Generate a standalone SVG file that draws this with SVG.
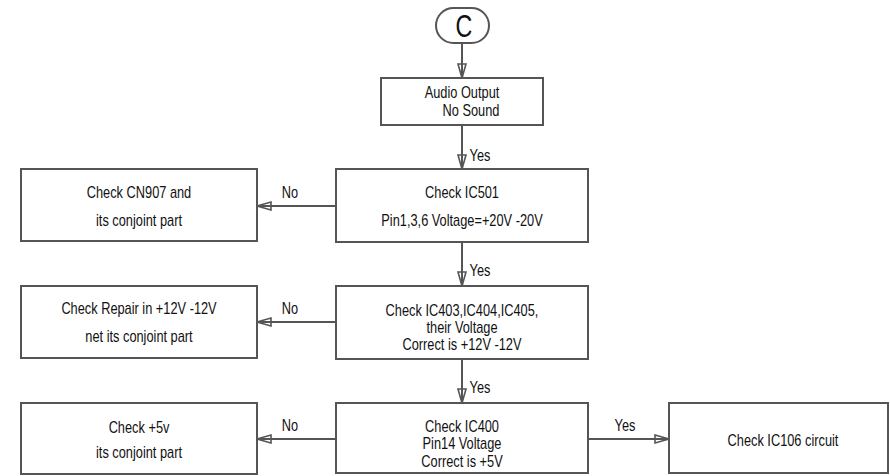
<svg xmlns="http://www.w3.org/2000/svg" width="890" height="476" viewBox="0 0 890 476">
<defs>
<style>
.box{fill:#fff;stroke:#555;stroke-width:2}
.ln{fill:none;stroke:#555;stroke-width:2;marker-end:url(#arr)}
text{font-family:"Liberation Sans Narrow","Liberation Sans",Arial,sans-serif;font-size:16px;fill:#111;text-anchor:middle;dominant-baseline:central}
</style>
<marker id="arr" markerUnits="userSpaceOnUse" markerWidth="18" markerHeight="12" refX="15" refY="6" orient="auto" viewBox="0 0 18 12">
<path d="M1,2 L15,6 L1,10 Z" fill="#fff" stroke="#555" stroke-width="1.6"/>
<path d="M0,6 L15,6" stroke="#555" stroke-width="2"/>
</marker>
</defs>
<rect width="890" height="476" fill="#fff"/>
<g id="connectors">
<path class="ln" d="M462,43 V78"/>
<path class="ln" d="M462,125 V169"/>
<path class="ln" d="M462,242 V286"/>
<path class="ln" d="M462,359 V403"/>
<path class="ln" d="M336,206 H257"/>
<path class="ln" d="M336,322 H257"/>
<path class="ln" d="M336,439 H257"/>
<path class="ln" d="M588,439 H669"/>
<text transform="translate(480 155) scale(0.8 1)">Yes</text>
<text transform="translate(480 270) scale(0.8 1)">Yes</text>
<text transform="translate(480 387) scale(0.8 1)">Yes</text>
<text transform="translate(290 192) scale(0.8 1)">No</text>
<text transform="translate(290 308) scale(0.8 1)">No</text>
<text transform="translate(290 425) scale(0.8 1)">No</text>
<text transform="translate(625 425) scale(0.8 1)">Yes</text>
</g>
<g id="start">
<rect class="box" x="436" y="8" width="53" height="35" rx="17.5"/>
<text transform="translate(464 26) scale(0.75 1)" style="font-size:31px">C</text>
</g>
<g id="audio">
<rect class="box" x="381" y="78" width="162" height="47"/>
<text transform="translate(462 92) scale(0.8 1)">Audio Output</text>
<text transform="translate(471 110) scale(0.8 1)">No Sound</text>
</g>
<g id="ic501">
<rect class="box" x="336" y="169" width="252" height="73"/>
<text transform="translate(462 192) scale(0.8 1)">Check IC501</text>
<text transform="translate(462 220) scale(0.8 1)">Pin1,3,6 Voltage=+20V -20V</text>
</g>
<g id="cn907">
<rect class="box" x="21" y="169" width="236" height="72"/>
<text transform="translate(139 192) scale(0.8 1)">Check CN907 and</text>
<text transform="translate(139 220) scale(0.8 1)">its conjoint part</text>
</g>
<g id="ic403">
<rect class="box" x="336" y="286" width="252" height="73"/>
<text transform="translate(462 310) scale(0.8 1)">Check IC403,IC404,IC405,</text>
<text transform="translate(462 327) scale(0.8 1)">their Voltage</text>
<text transform="translate(462 344) scale(0.8 1)">Correct is +12V -12V</text>
</g>
<g id="repair">
<rect class="box" x="21" y="286" width="236" height="72"/>
<text transform="translate(139 308) scale(0.8 1)">Check Repair in +12V -12V</text>
<text transform="translate(139 336) scale(0.8 1)">net its conjoint part</text>
</g>
<g id="ic400">
<rect class="box" x="336" y="403" width="252" height="70"/>
<text transform="translate(462 426) scale(0.8 1)">Check IC400</text>
<text transform="translate(462 443) scale(0.8 1)">Pin14 Voltage</text>
<text transform="translate(462 461) scale(0.8 1)">Correct is +5V</text>
</g>
<g id="plus5v">
<rect class="box" x="21" y="403" width="236" height="71"/>
<text transform="translate(139 427) scale(0.8 1)">Check +5v</text>
<text transform="translate(139 452) scale(0.8 1)">its conjoint part</text>
</g>
<g id="ic106">
<rect class="box" x="669" y="403" width="219" height="70"/>
<text transform="translate(783 440) scale(0.8 1)">Check IC106 circuit</text>
</g>
</svg>
